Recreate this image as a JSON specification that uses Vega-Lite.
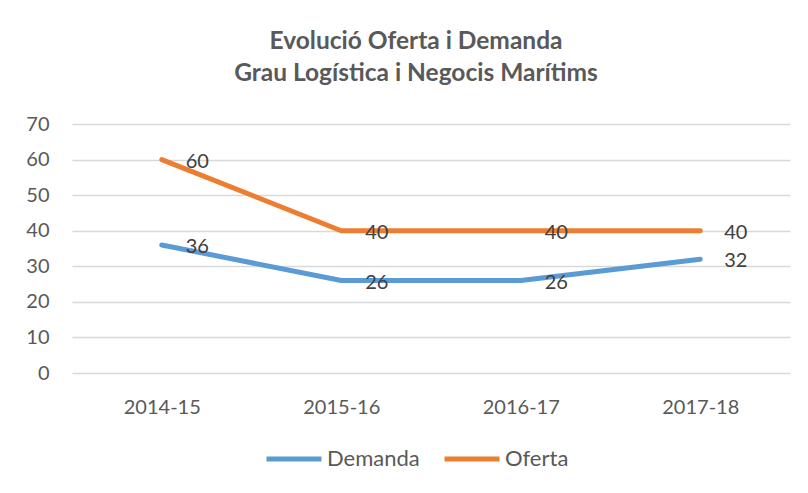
{
  "$schema": "https://vega.github.io/schema/vega-lite/v6.json",
  "width": 718,
  "height": 249,
  "autosize": {"type": "none"},
  "padding": {"left": 72, "top": 124, "right": 18, "bottom": 120},
  "background": "white",
  "config": {
    "font": "Lato",
    "view": {"stroke": null}
  },
  "title": {
    "text": ["Evolució Oferta i Demanda", "Grau Logística i Negocis Marítims"],
    "font": "Lato",
    "fontSize": 24.5,
    "fontWeight": "bold",
    "color": "#595959",
    "lineHeight": 32,
    "anchor": "middle",
    "dx": -15,
    "offset": 28
  },
  "data": {
    "values": [
      {"curs": "2014-15", "serie": "Demanda", "valor": 36},
      {"curs": "2015-16", "serie": "Demanda", "valor": 26},
      {"curs": "2016-17", "serie": "Demanda", "valor": 26},
      {"curs": "2017-18", "serie": "Demanda", "valor": 32},
      {"curs": "2014-15", "serie": "Oferta", "valor": 60},
      {"curs": "2015-16", "serie": "Oferta", "valor": 40},
      {"curs": "2016-17", "serie": "Oferta", "valor": 40},
      {"curs": "2017-18", "serie": "Oferta", "valor": 40}
    ]
  },
  "encoding": {
    "x": {
      "field": "curs",
      "type": "nominal",
      "scale": {"type": "point", "padding": 0.5},
      "axis": {
        "title": null,
        "labelAngle": 0,
        "labelFont": "Lato",
        "labelFontSize": 20,
        "labelColor": "#595959",
        "labelPadding": 24,
        "ticks": false,
        "domain": false
      }
    },
    "y": {
      "field": "valor",
      "type": "quantitative",
      "scale": {"domain": [0, 70]},
      "axis": {
        "title": null,
        "values": [0, 10, 20, 30, 40, 50, 60, 70],
        "labelFont": "Lato",
        "labelFontSize": 20,
        "labelColor": "#595959",
        "labelPadding": 23,
        "ticks": false,
        "domain": false,
        "grid": true,
        "gridColor": "#D9D9D9",
        "gridWidth": 1.5
      }
    },
    "color": {
      "field": "serie",
      "type": "nominal",
      "scale": {"domain": ["Demanda", "Oferta"], "range": ["#5B9BD5", "#ED7D31"]},
      "legend": {
        "title": null,
        "orient": "none",
        "direction": "horizontal",
        "legendX": 192,
        "legendY": 305,
        "symbolType": "stroke",
        "symbolSize": 3025,
        "symbolStrokeWidth": 5,
        "labelFont": "Lato",
        "labelFontSize": 22,
        "labelColor": "#595959",
        "labelOffset": 3,
        "columnPadding": 14
      }
    }
  },
  "layer": [
    {
      "mark": {"type": "line", "strokeWidth": 5, "strokeCap": "round", "strokeJoin": "round"}
    },
    {
      "mark": {"type": "text", "align": "left", "baseline": "middle", "dx": 24, "dy": 2, "fontSize": 20, "font": "Lato", "color": "#404040"},
      "encoding": {
        "text": {"field": "valor", "type": "quantitative"},
        "color": {"value": "#404040"}
      }
    }
  ]
}
